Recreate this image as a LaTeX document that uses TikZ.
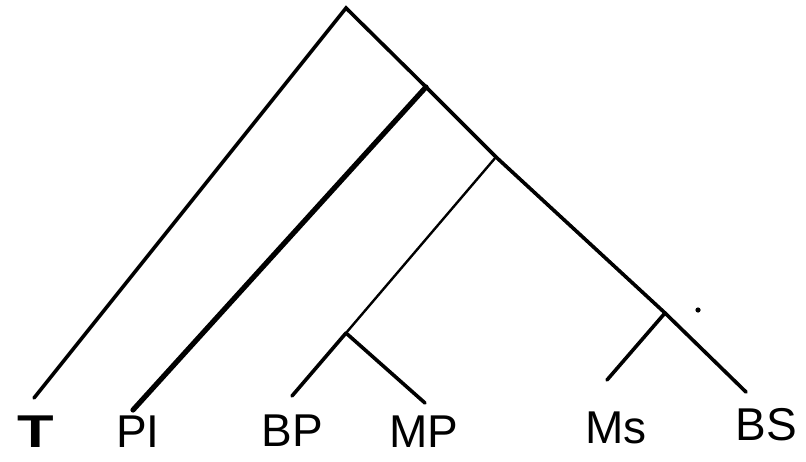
\documentclass[tikz,border=0pt]{standalone}
\usepackage{fontspec}
\setmainfont{Liberation Sans}
\begin{document}
\begin{tikzpicture}[x=1pt,y=-1pt,
  branch/.style={line width=3.6pt,line cap=round},
  thinbranch/.style={line width=2.4pt,line cap=round},
  thickbranch/.style={line width=5.2pt,line cap=round},
  taxon/.style={font=\fontsize{46}{46}\selectfont,inner sep=0pt,anchor=base}]
\useasboundingbox (0,0) rectangle (806,461);
\coordinate (root) at (346,8);
\coordinate (n1) at (426,87);
\coordinate (n2) at (496,157);
\coordinate (n3) at (346,333);
\coordinate (n4) at (665,313);
\coordinate (eT) at (34,398);
\coordinate (ePI) at (133,410);
\coordinate (eBP) at (292,396);
\coordinate (eMP) at (425,403);
\coordinate (eMs) at (607,380);
\coordinate (eBS) at (746,392);
\node[taxon,font=\fontsize{46}{46}\selectfont\bfseries,xscale=1.3] (T) at (36,447) {T};
\node[taxon] (PI) at (138,447) {PI};
\node[taxon] (BP) at (292,446) {BP};
\node[taxon] (MP) at (424,447) {MP};
\node[taxon] (Ms) at (616,443) {Ms};
\node[taxon] (BS) at (766,440) {BS};
\draw[branch] (eT) -- (root) -- (n1);
\draw[branch] (n1) -- (n2) -- (n4) -- (eBS);
\draw[thickbranch] (n1) -- (ePI);
\draw[thinbranch] (n2) -- (n3);
\draw[branch] (n3) -- (eBP);
\draw[branch] (n3) -- (eMP);
\draw[branch] (n4) -- (eMs);
\fill (698,310) circle (2.6pt);
\end{tikzpicture}
\end{document}
